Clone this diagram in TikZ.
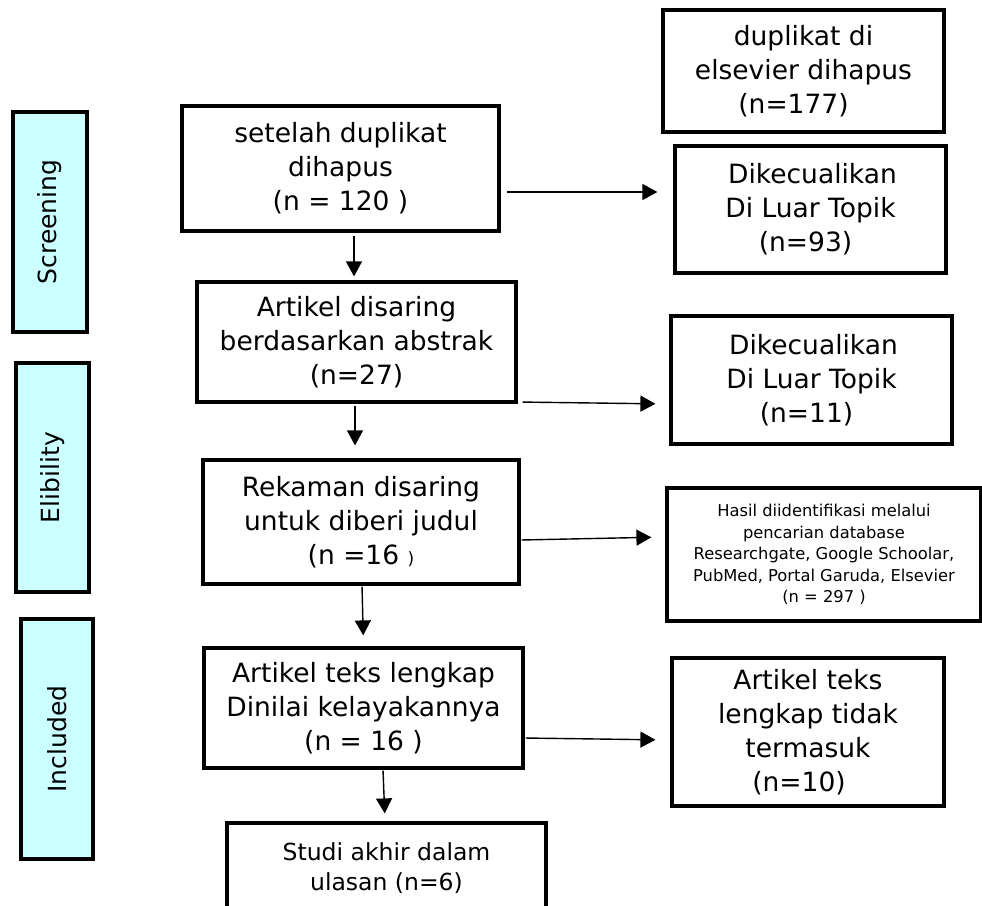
\documentclass[tikz,border=0pt]{standalone}
\usepackage{fontspec}
\setmainfont{DejaVu Sans}
\usetikzlibrary{arrows.meta}
\definecolor{sidecyan}{HTML}{CCFFFF}
\tikzset{
  box/.style={draw, line width=3.2pt, align=center, inner sep=0pt, font=\fontsize{26.5}{34}\selectfont},
  sidebox/.style={draw, line width=3.2pt, fill=sidecyan, rotate=90, inner sep=0pt, font=\fontsize{25}{30}\selectfont},
  arr/.style={-{Triangle[length=15pt,width=16pt]}, line width=1.4pt},
}

\begin{document}
\begin{tikzpicture}[x=1pt,y=-1pt]
    \clip (0,0) rectangle (982,905);

    % Tahapan di kiri
    \node[sidebox, minimum width=220pt, minimum height=74pt] (scr) at (50,222) {Screening};
    \node[sidebox, minimum width=229pt, minimum height=73pt] (eli) at (52.5,477.5) {Elibility};
    \node[sidebox, minimum width=240pt, minimum height=72pt] (inc) at (57,739) {Included};

    % Kotak utama
    \node[box, minimum width=317pt, minimum height=125pt] (set) at (340.5,168.5) {setelah duplikat\\dihapus\\(n = 120 )};
    \node[box, minimum width=319pt, minimum height=120pt] (abs) at (356.5,342) {Artikel disaring\\berdasarkan abstrak\\(n=27)};
    \node[box, minimum width=316pt, minimum height=124pt] (rek) at (361,522) {Rekaman disaring\\untuk diberi judul\\(n =16 {\fontsize{17}{17}\selectfont)}};
    \node[box, minimum width=319pt, minimum height=120pt] (full) at (363.5,708) {Artikel teks lengkap\\Dinilai kelayakannya\\(n = 16 )};
    \node[box, minimum width=319pt, minimum height=90pt, font=\fontsize{23.5}{30}\selectfont] (studi) at (386.5,868) {Studi akhir dalam\\ulasan (n=6)};

    % Kotak di kanan
    \node[box, minimum width=281pt, minimum height=122pt] (dup) at (803.5,71) {duplikat di\\elsevier dihapus\\(n=177)\hspace*{20pt}};
    \node[box, minimum width=271pt, minimum height=127pt] (ex1) at (810.5,209.5) {\hspace*{4pt}Dikecualikan\\Di Luar Topik\hspace*{14pt}\\(n=93)\hspace*{10pt}};
    \node[box, minimum width=281pt, minimum height=128pt] (ex2) at (811.5,380) {\hspace*{4pt}Dikecualikan\\Di Luar Topik\hspace*{14pt}\\(n=11)\hspace*{10pt}};
    \node[box, minimum width=314pt, minimum height=133pt, font=\fontsize{16.3}{21.5}\selectfont] (hasil) at (824,554.5) {Hasil diidentifikasi melalui\\pencarian database\\Researchgate, Google Schoolar,\\PubMed, Portal Garuda, Elsevier\\(n = 297 )};
    \node[box, minimum width=272pt, minimum height=148pt] (excl) at (808,732) {Artikel teks\\lengkap tidak\\termasuk\\(n=10)\hspace*{18pt}};

    % Panah ke bawah
    \draw[arr, shorten <=3pt, shorten >=4pt] ([xshift=13.5pt]set.south) -- ([xshift=13.5pt]set.south |- abs.north);
    \draw[arr, shorten <=2pt, shorten >=13pt] ([xshift=-1.5pt]abs.south) -- ([xshift=-1.5pt]abs.south |- rek.north);
    \draw[arr, shorten <=1pt, shorten >=11pt] ([xshift=1pt]rek.south) -- (full.north);
    \draw[arr, shorten <=1pt, shorten >=8pt] ([xshift=19.5pt]full.south) -- ([xshift=-1.5pt]studi.north);

    % Panah ke kanan
    \draw[arr, shorten <=6pt, shorten >=16pt] ([yshift=-23.5pt]set.east) -- ([yshift=-23.5pt]set.east -| ex1.west);
    \draw[arr, shorten <=5pt, shorten >=14pt] ([yshift=-60pt]abs.east) -- ([yshift=-24pt]ex2.west);
    \draw[arr, shorten <=1pt, shorten >=14pt] ([yshift=-18pt]rek.east) -- ([yshift=17.5pt]hasil.west);
    \draw[arr, shorten <=1pt, shorten >=15pt] ([yshift=-30pt]full.east) -- ([yshift=-8pt]excl.west);
\end{tikzpicture}
\end{document}
